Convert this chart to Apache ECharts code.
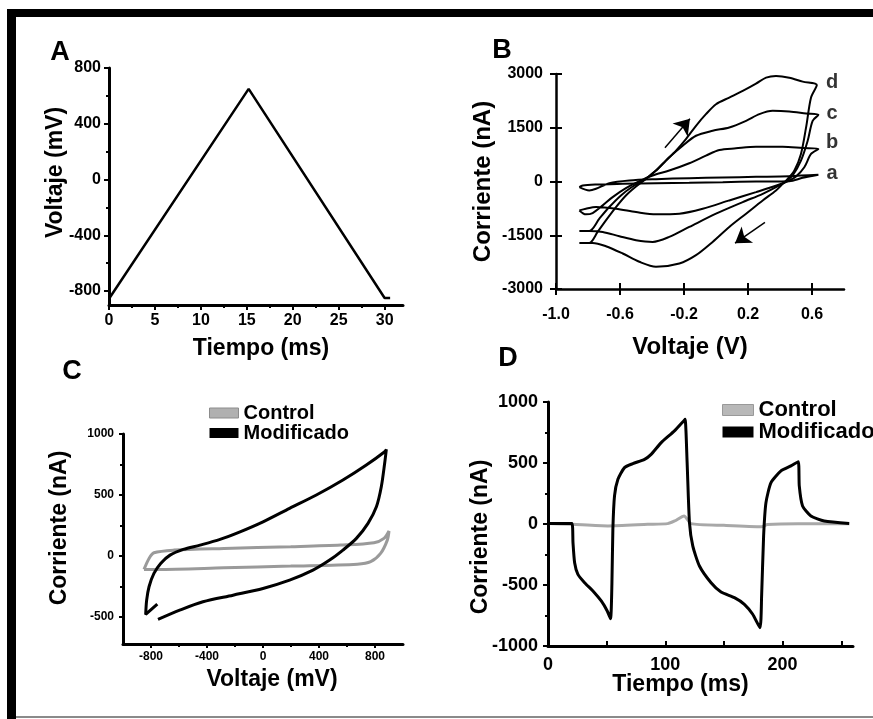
<!DOCTYPE html>
<html>
<head>
<meta charset="utf-8">
<script src="https://cdn.jsdelivr.net/npm/echarts@6/dist/echarts.min.js"></script>
<style>
  html, body { margin: 0; padding: 0; background: #fff; }
  #chart { width: 873px; height: 719px; }
</style>
</head>
<body>
<div id="chart"></div>
<script>
// ---- A: rampa triangular (tiempo ms, voltaje mV)
const rampA = [[0, -855], [0.2, -855], [15.2, 650], [30, -850], [30.6, -850]];
const ticksAx = [0, 5, 10, 15, 20, 25, 30];
const minorAx = [2.5, 7.5, 12.5, 17.5, 22.5, 27.5];
const ticksAy = [-800, -400, 0, 400, 800];
const minorAy = [-600, -200, 200, 600];

// ---- B: voltamogramas a-d (V, nA)
const curveBa = [[-0.854,-158],[-0.792,-250],[-0.75,-204],[-0.667,-47],[-0.542,28],[-0.375,65],[-0.167,93],[0.042,111],[0.25,130],[0.458,148],[0.64,185],[0.542,102],[0.458,9],[0.25,0],[0.042,-19],[-0.167,-37],[-0.375,-47],[-0.583,-65],[-0.75,-84],[-0.833,-111],[-0.854,-158]];
const curveBb = [[-0.854,-806],[-0.813,-917],[-0.771,-880],[-0.708,-667],[-0.646,-435],[-0.563,-185],[-0.479,9],[-0.396,167],[-0.292,305],[-0.167,509],[-0.063,722],[0.021,879],[0.125,926],[0.25,972],[0.417,972],[0.542,935],[0.64,907],[0.594,768],[0.552,398],[0.5,139],[0.458,28],[0.396,-84],[0.25,-296],[0.083,-528],[-0.083,-759],[-0.229,-898],[-0.375,-917],[-0.5,-852],[-0.625,-759],[-0.75,-713],[-0.813,-759],[-0.854,-806]];
const curveBc = [[-0.854,-1380],[-0.792,-1380],[-0.729,-1037],[-0.667,-713],[-0.594,-389],[-0.521,-139],[-0.448,46],[-0.375,305],[-0.292,676],[-0.208,1000],[-0.125,1277],[-0.021,1416],[0.083,1509],[0.188,1694],[0.271,1879],[0.354,1972],[0.458,1953],[0.563,1898],[0.64,1861],[0.604,1694],[0.573,1138],[0.531,583],[0.479,167],[0.438,9],[0.396,-111],[0.292,-343],[0.167,-574],[0,-898],[-0.167,-1269],[-0.292,-1547],[-0.396,-1686],[-0.5,-1639],[-0.604,-1528],[-0.708,-1408],[-0.792,-1380],[-0.854,-1380]];
const curveBd = [[-0.854,-1713],[-0.792,-1713],[-0.74,-1408],[-0.688,-1084],[-0.625,-713],[-0.563,-389],[-0.5,-139],[-0.438,74],[-0.375,305],[-0.313,583],[-0.25,861],[-0.188,1185],[-0.125,1555],[-0.063,1879],[0,2157],[0.083,2342],[0.167,2528],[0.25,2731],[0.313,2898],[0.375,2944],[0.458,2898],[0.542,2787],[0.63,2694],[0.594,2342],[0.563,1509],[0.531,768],[0.49,305],[0.448,74],[0.417,-65],[0.375,-250],[0.292,-528],[0.188,-898],[0.083,-1269],[-0.021,-1686],[-0.125,-2056],[-0.229,-2288],[-0.375,-2380],[-0.479,-2241],[-0.583,-2010],[-0.688,-1806],[-0.771,-1713],[-0.854,-1713]];
const curveNames = ['a', 'b', 'c', 'd'];
const curveLabelX = 0.725;
const curveLabelY = [222, 1083, 1889, 2750];
const arrowUp = [[-0.319, 944], [-0.163, 1750]];
const arrowDown = [[0.306, -1139], [0.119, -1722]];
const ticksBx = [-1.0, -0.6, -0.2, 0.2, 0.6];
const ticksBy = [-3000, -1500, 0, 1500, 3000];

// ---- C: control vs modificado (mV, nA)
const controlC = [[-850,-109],[-814,-19],[-779,27],[-636,49],[-279,63],[198,77],[555,90],[793,109],[864,145],[900,205],[888,131],[840,22],[769,-46],[674,-66],[198,-82],[-279,-96],[-755,-109],[-850,-109]];
const modC = [[-755,-393],[-838,-478],[-831,-361],[-814,-251],[-779,-142],[-731,-60],[-664,8],[-569,55],[-450,90],[-307,137],[-164,199],[0,281],[190,391],[381,500],[571,623],[738,746],[869,855],[881,874],[869,760],[845,568],[810,404],[750,268],[667,145],[571,49],[476,-33],[357,-115],[190,-197],[0,-265],[-214,-320],[-429,-374],[-595,-443],[-750,-519]];
const ticksCx = [-800, -400, 0, 400, 800];
const minorCx = [-600, -200, 200, 600];
const ticksCy = [-500, 0, 500, 1000];
const minorCy = [-250, 250, 750];

// ---- D: respuesta en el tiempo (ms, nA)
const controlD = [[0,5],[21,-3],[51,-16],[85,-3],[102,3],[108,25],[116,66],[122,3],[150,-11],[182,-22],[187,-5],[213,3],[257,3]];
const modD = [[0,5],[20.4,5],[21.3,-153],[22.7,-317],[25.5,-413],[31.2,-481],[38.3,-549],[45.4,-631],[50.5,-713],[53.3,-776],[54.5,-481],[55.3,-44],[56.7,230],[59.6,366],[65.2,462],[72.3,495],[82.3,530],[87.9,571],[96.5,667],[107.8,763],[115.7,845],[116.9,858],[118.6,503],[120.6,11],[123.4,-180],[129.1,-344],[139,-481],[147.5,-557],[158.9,-604],[167.4,-658],[174.5,-740],[180.7,-850],[182.1,-590],[183.8,-98],[185.8,175],[190.1,339],[198.6,435],[207.1,476],[213.3,511],[214.2,312],[217,148],[224.1,66],[235.5,25],[256.7,5]];
const ticksDx = [0, 100, 200];
const minorDx = [50, 150, 250];
const ticksDy = [-1000, -500, 0, 500, 1000];
const minorDy = [-750, -250, 250, 750];

const FONT = "'Liberation Sans', Arial, Helvetica, sans-serif";
const xAxes = [];
const yAxes = [];

// main axis + optional overlay axis that only draws the extra (minor / crossing) ticks
function addAxis(list, c) {
  const isY = list === yAxes;
  const pos = isY ? 'left' : 'bottom';
  list.push({
    type: 'value', gridIndex: c.grid, position: pos, min: c.min, max: c.max,
    name: c.name, nameLocation: 'middle', nameGap: c.nameGap, nameRotate: isY ? 90 : 0,
    nameMoveOverlap: false,
    nameTextStyle: { color: '#000', fontFamily: FONT, fontWeight: 'bold', fontSize: c.nameSize, padding: c.namePad || 0 },
    axisLine: { onZero: false, lineStyle: { color: '#000', width: c.lw } },
    axisTick: { show: true, inside: !!c.inside, length: c.tick, customValues: c.major, lineStyle: { color: '#000', width: 2 } },
    axisLabel: { customValues: c.major, color: '#000', fontFamily: FONT, fontWeight: 'bold', fontSize: c.size, margin: c.margin,
      formatter: c.fmt || (v => String(v)) },
    splitLine: { show: false }
  });
  const idx = list.length - 1;
  if (c.minor) {
    list.push({
      type: 'value', gridIndex: c.grid, position: pos, min: c.min, max: c.max,
      axisLine: { show: false, onZero: false },
      axisTick: { show: true, inside: !!c.minorInside, length: c.minorLen, customValues: c.minor, lineStyle: { color: '#000', width: 2 } },
      axisLabel: { show: false },
      splitLine: { show: false }
    });
  }
  return idx;
}

const xA = addAxis(xAxes, { grid: 0, min: 0, max: 32, major: ticksAx, minor: minorAx, lw: 3, tick: 5, minorLen: 3, size: 16, margin: 8, name: 'Tiempo (ms)', nameGap: 32, nameSize: 23, namePad: [0, 0, 0, 10] });
const yA = addAxis(yAxes, { grid: 0, min: -900, max: 800, major: ticksAy, minor: minorAy, lw: 3, tick: 5, minorLen: 3, size: 16, margin: 8, name: 'Voltaje (mV)', nameGap: 42, nameSize: 23, namePad: [0, 0, 0, 28] });
const xB = addAxis(xAxes, { grid: 1, min: -1, max: 0.8, major: ticksBx, minor: ticksBx, minorInside: true, lw: 2.5, tick: 6, minorLen: 6, size: 16, margin: 18, fmt: v => v.toFixed(1), name: 'Voltaje (V)', nameGap: 46, nameSize: 24, namePad: [0, 20, 0, 0] });
const yB = addAxis(yAxes, { grid: 1, min: -3000, max: 3000, major: ticksBy, minor: ticksBy, minorInside: true, lw: 2.5, tick: 6, minorLen: 6, size: 16, margin: 13, name: 'Corriente (nA)', nameGap: 61, nameSize: 24 });
const xC = addAxis(xAxes, { grid: 2, min: -1000, max: 1000, major: ticksCx, minor: minorCx, lw: 3, tick: 4, minorLen: 3, size: 12, margin: 7, name: 'Voltaje (mV)', nameGap: 24, nameSize: 23, namePad: [0, 0, 0, 18] });
const yC = addAxis(yAxes, { grid: 2, min: -720, max: 1000, major: ticksCy, minor: minorCy, lw: 3, tick: 4, minorLen: 3, size: 12, margin: 9, name: 'Corriente (nA)', nameGap: 52, nameSize: 23, namePad: [0, 0, 0, 22] });
const xD = addAxis(xAxes, { grid: 3, min: 0, max: 260, major: ticksDx, minor: minorDx, inside: true, minorInside: true, lw: 3, tick: 5, minorLen: 5, size: 18, margin: 10, name: 'Tiempo (ms)', nameGap: 27, nameSize: 23, namePad: [0, 40, 0, 0] });
const yD = addAxis(yAxes, { grid: 3, min: -1000, max: 1000, major: ticksDy, minor: minorDy, lw: 3, tick: 5, minorLen: 3, size: 18, margin: 10, name: 'Corriente (nA)', nameGap: 56, nameSize: 23, namePad: [0, 26, 0, 0] });

function line(xi, yi, data, color, width, smooth, name) {
  return { type: 'line', name: name, xAxisIndex: xi, yAxisIndex: yi, data: data, symbol: 'none', smooth: smooth,
    lineStyle: { color: color, width: width }, itemStyle: { color: color } };
}

const legendText = { color: '#000', fontFamily: FONT, fontWeight: 'bold' };

const option = {
  animation: false,
  backgroundColor: '#fff',
  grid: [
    { left: 109, top: 68, width: 294, height: 237, outerBoundsMode: 'none' },
    { left: 556, top: 74, width: 288, height: 215, outerBoundsMode: 'none' },
    { left: 123, top: 434, width: 280, height: 210, outerBoundsMode: 'none' },
    { left: 548, top: 402, width: 305, height: 244, outerBoundsMode: 'none' }
  ],
  xAxis: xAxes,
  yAxis: yAxes,
  legend: [
    { left: 204, top: 398, orient: 'vertical', icon: 'rect', itemWidth: 29, itemHeight: 10, itemGap: 0, selectedMode: false,
      textStyle: Object.assign({ fontSize: 20 }, legendText),
      data: [{ name: 'Control', itemStyle: { color: '#b0b0b0', borderColor: '#8c8c8c', borderWidth: 1 } },
             { name: 'Modificado', itemStyle: { color: '#000' } }] },
    { left: 717, top: 394, orient: 'vertical', icon: 'rect', itemWidth: 31, itemHeight: 11, itemGap: 0, selectedMode: false,
      textStyle: Object.assign({ fontSize: 22 }, legendText),
      data: [{ name: 'Control', itemStyle: { color: '#b8b8b8', borderColor: '#999', borderWidth: 1 } },
             { name: 'Modificado', itemStyle: { color: '#000' } }] }
  ],
  graphic: [
    { type: 'rect', shape: { x: 7, y: 9, width: 866, height: 8 }, style: { fill: '#000' } },
    { type: 'rect', shape: { x: 7, y: 9, width: 9, height: 710 }, style: { fill: '#000' } },
    { type: 'rect', shape: { x: 16, y: 716, width: 857, height: 2 }, style: { fill: '#8a8a8a' } },
    { type: 'text', x: 60, y: 53, style: { text: 'A', font: "bold 27px 'Liberation Sans'", fill: '#000', align: 'center', verticalAlign: 'middle' } },
    { type: 'text', x: 502, y: 51, style: { text: 'B', font: "bold 27px 'Liberation Sans'", fill: '#000', align: 'center', verticalAlign: 'middle' } },
    { type: 'text', x: 72, y: 372, style: { text: 'C', font: "bold 27px 'Liberation Sans'", fill: '#000', align: 'center', verticalAlign: 'middle' } },
    { type: 'text', x: 508, y: 359, style: { text: 'D', font: "bold 27px 'Liberation Sans'", fill: '#000', align: 'center', verticalAlign: 'middle' } }
  ],
  series: [
    line(xA, yA, rampA, '#000', 2.5, false),
    line(xB, yB, curveBa, '#000', 2, 0.3),
    line(xB, yB, curveBb, '#000', 2, 0.3),
    line(xB, yB, curveBc, '#000', 2, 0.3),
    line(xB, yB, curveBd, '#000', 2, 0.3),
    {
      type: 'scatter', xAxisIndex: xB, yAxisIndex: yB, symbolSize: 0,
      data: curveNames.map((n, i) => [curveLabelX, curveLabelY[i], n]),
      label: { show: true, position: 'inside', formatter: p => p.data[2], color: '#000', fontFamily: FONT, fontWeight: 'bold', fontSize: 20 }
    },
    {
      type: 'lines', coordinateSystem: 'cartesian2d', xAxisIndex: xB, yAxisIndex: yB,
      symbol: ['none', 'arrow'], symbolSize: 15,
      lineStyle: { color: '#000', width: 1.5, opacity: 1 },
      data: [{ coords: arrowUp }, { coords: arrowDown }]
    },
    line(xC, yC, controlC, '#9a9a9a', 3, 0.3, 'Control'),
    line(xC, yC, modC, '#000', 3, 0.3, 'Modificado'),
    line(xD, yD, controlD, '#a8a8a8', 3, 0.2, 'Control'),
    line(xD, yD, modD, '#000', 3, 0.2, 'Modificado')
  ]
};

const chart = echarts.init(document.getElementById('chart'), null, { renderer: 'canvas' });
chart.setOption(option);
</script>
</body>
</html>
